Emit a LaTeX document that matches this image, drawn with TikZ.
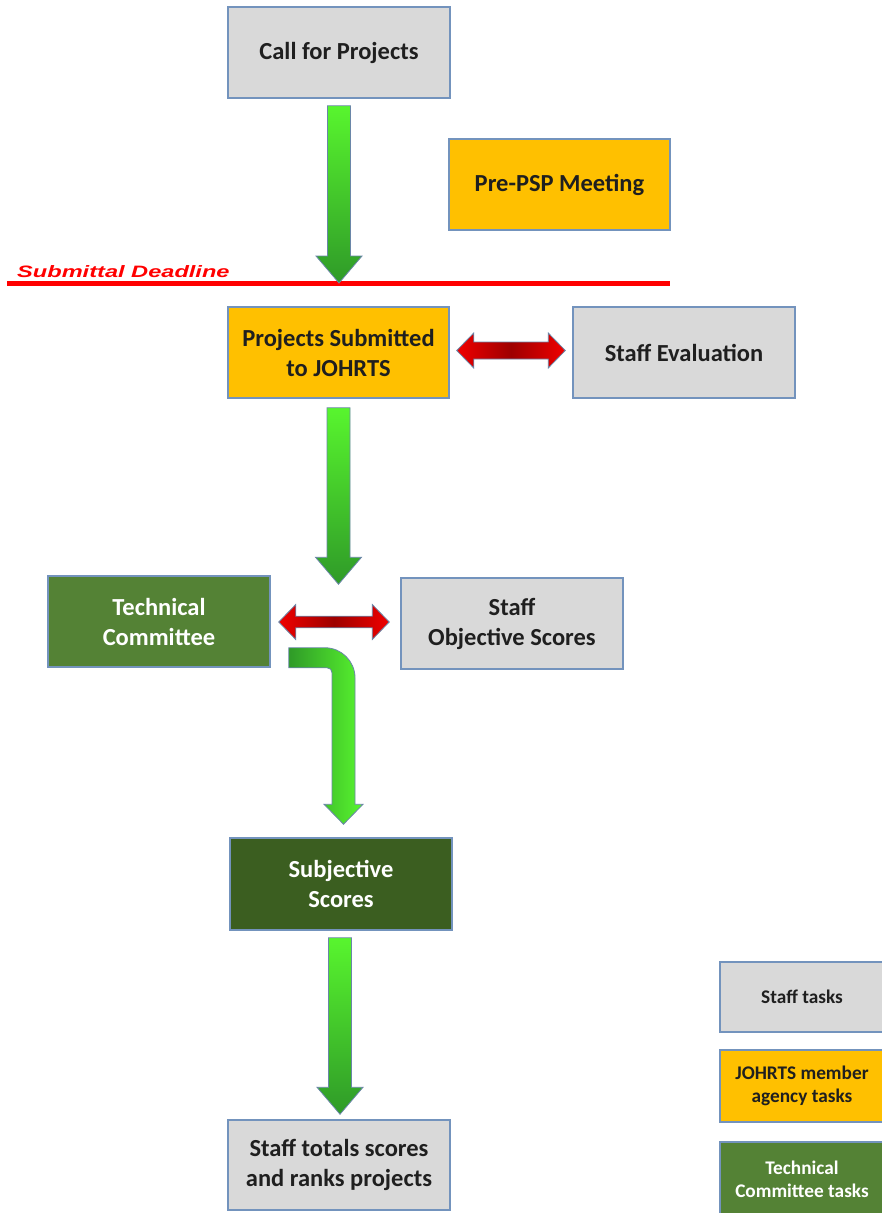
\documentclass[tikz,border=0pt]{standalone}
\usepackage{fontspec}
\setmainfont{Carlito}
\newfontfamily\dlfont{Liberation Sans}
\usetikzlibrary{calc}
\definecolor{boxgray}{HTML}{D9D9D9}
\definecolor{boxorange}{HTML}{FFC000}
\definecolor{boxgreen}{HTML}{548235}
\definecolor{boxdkgreen}{HTML}{3B5E20}
\definecolor{edge}{HTML}{7393BD}
\definecolor{arredge}{HTML}{6A86A8}
\definecolor{gtop}{HTML}{58F52E}
\definecolor{gbot}{HTML}{2F9A28}
\definecolor{rend}{HTML}{F00000}
\definecolor{rmid}{HTML}{9E0000}
\newcommand\fatdown[2]{%
  \shadedraw[garrow] let \p1=(#1), \p2=(#2) in
  (\x1-11.5pt,\y1) -- (\x1+11.5pt,\y1) -- (\x1+11.5pt,\y2+27pt) -- (\x1+23pt,\y2+27pt)
  -- (\x1,\y2) -- (\x1-23pt,\y2+27pt) -- (\x1-11.5pt,\y2+27pt) -- cycle;}
% #1 left tip, #2 right tip, #3 half shaft thickness
\newcommand\fatboth[3]{%
  \shadedraw[rarrow] let \p1=(#1), \p2=(#2) in
  (\x1,\y1) -- (\x1+17pt,\y1+17.5pt) -- (\x1+17pt,\y1+#3) -- (\x2-17pt,\y1+#3)
  -- (\x2-17pt,\y1+17.5pt) -- (\x2,\y1) -- (\x2-17pt,\y1-17.5pt) -- (\x2-17pt,\y1-#3)
  -- (\x1+17pt,\y1-#3) -- (\x1+17pt,\y1-17.5pt) -- cycle;}
\newcommand\fatbent[2]{%
  \shadedraw[barrow] let \p1=(#1), \p2=(#2) in
  (\x1,\y1) -- (\x2-18.5pt,\y1)
  .. controls (\x2-2pt,\y1) and (\x2+11.5pt,\y1-13.5pt) .. (\x2+11.5pt,\y1-30pt)
  -- (\x2+11.5pt,\y2+20pt) -- (\x2+19.5pt,\y2+20pt) -- (\x2,\y2)
  -- (\x2-19.5pt,\y2+20pt) -- (\x2-11.5pt,\y2+20pt) -- (\x2-11.5pt,\y1-25pt)
  .. controls (\x2-11.5pt,\y1-22pt) and (\x2-13.5pt,\y1-20pt) .. (\x2-16.5pt,\y1-20pt)
  -- (\x1,\y1-20pt) -- cycle;}
\begin{document}
\begin{tikzpicture}[x=1pt,y=-1pt,
  box/.style={draw=edge, line width=1.5pt, minimum width=222pt, minimum height=91pt,
    inner sep=0pt, align=center, text=black!88,
    font=\fontsize{24.5}{30}\selectfont\bfseries},
  graybox/.style={box, fill=boxgray},
  orangebox/.style={box, fill=boxorange},
  greenbox/.style={box, fill=boxgreen, text=white},
  dkgreenbox/.style={box, fill=boxdkgreen, text=white},
  legbox/.style={minimum width=164pt, minimum height=72pt,
    font=\fontsize{19.3}{23}\selectfont\bfseries},
  garrow/.style={draw=arredge, line width=0.8pt, top color=gtop, bottom color=gbot},
  rarrow/.style={draw=arredge, line width=0.8pt, left color=rend, right color=rend, middle color=rmid},
  barrow/.style={draw=arredge, line width=0.8pt, left color=gbot, right color=gtop},
  deadline/.style={draw=red, line width=5pt},
  dltext/.style={text=red, font=\dlfont\fontsize{16.5}{19}\selectfont\bfseries\itshape, inner sep=0pt}
]
\fill[white] (0,0) rectangle (882,1213);
\useasboundingbox (0,0) rectangle (882,1213);

% boxes
\node[graybox] (call) at (339,52.5) {Call for Projects};
\node[orangebox, minimum width=221pt] (prepsp) at (559.5,184.5) {Pre-PSP Meeting};
\node[orangebox, minimum width=221pt] (submitted) at (338.5,352.5) {Projects Submitted\\to JOHRTS};
\node[graybox] (staffeval) at (684,352.5) {Staff Evaluation};
\node[greenbox] (techcom) at (159,621.5) {Technical\\Committee};
\node[graybox] (objscores) at (512,623.5) {Staff\\Objective Scores};
\node[dkgreenbox, minimum height=92pt] (subjective) at (341,884) {Subjective\\Scores};
\node[graybox, minimum height=90pt] (totals) at (339,1165) {Staff totals scores\\and ranks projects};

% legend
\node[graybox, legbox, minimum height=70pt] (legstaff) at (802,997) {Staff tasks};
\node[orangebox, legbox] (legjohrts) at (802,1086) {JOHRTS member\\agency tasks};
\node[greenbox, legbox, minimum height=74pt] (legtech) at (802,1179) {Technical\\Committee tasks};

% deadline
\coordinate (dlL) at (7,283);
\coordinate (dlR) at (670,283);
\draw[deadline] (dlL) -- (dlR);
\node[dltext, anchor=base west] (dltxt) at (17,277) {\scalebox{1.43}[1]{Submittal Deadline}};

% green arrows
\coordinate (a1s) at ($(call.south)+(0,7)$);
\coordinate (a1t) at (call.south |- dlL);
\fatdown{a1s}{a1t}
\coordinate (a2s) at ($(submitted.south)+(0,9)$);
\coordinate (a2t) at ($(submitted.south |- techcom.north)+(0,9)$);
\fatdown{a2s}{a2t}
\coordinate (a3s) at ($(subjective.south)+(-1,7)$);
\coordinate (a3t) at ($(totals.north)+(1,-5)$);
\fatdown{a3s}{a3t}

% red double arrows
\coordinate (r1L) at ($(submitted.east)+(7,-2)$);
\coordinate (r1R) at ($(staffeval.west)+(-7,-2)$);
\fatboth{r1L}{r1R}{8.5pt}
\coordinate (r2L) at ($(techcom.east)+(8,0.5)$);
\coordinate (r2R) at ($(objscores.west)+(-11,-1.5)$);
\fatboth{r2L}{r2R}{5.8pt}

% bent arrow
\coordinate (b0) at ($(techcom.south east)+(18,-20)$);
\coordinate (bt) at ($(subjective.north)+(2.5,-13)$);
\fatbent{b0}{bt}
\end{tikzpicture}
\end{document}
